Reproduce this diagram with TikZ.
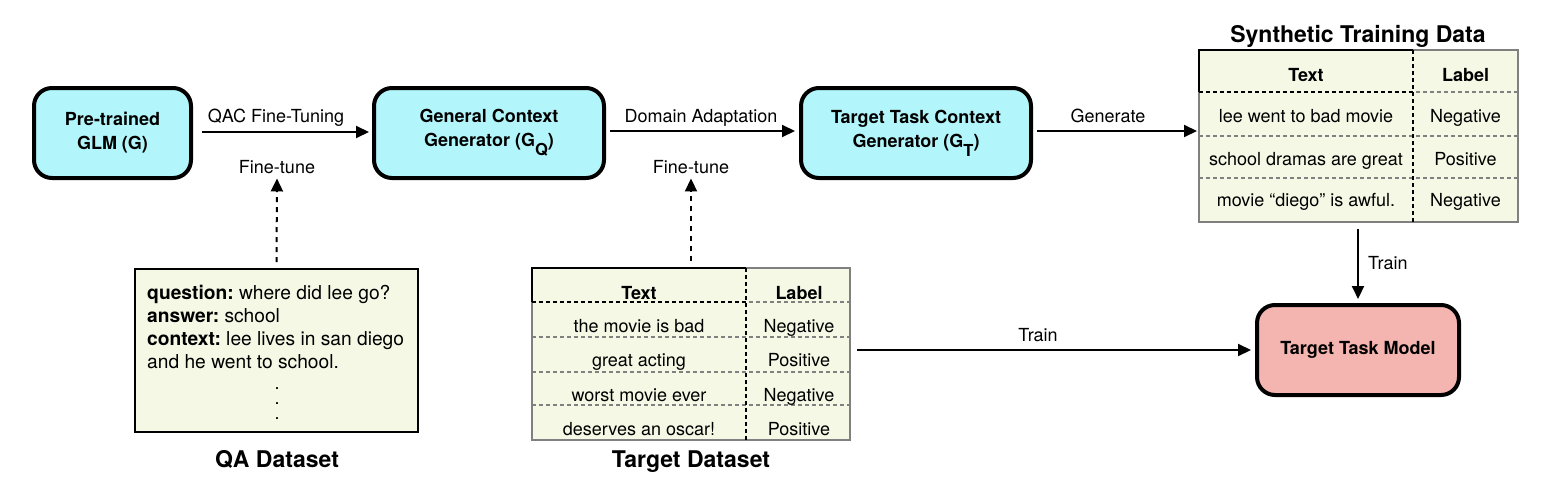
\documentclass[tikz,border=0pt]{standalone}
\usepackage{fontspec}
\setmainfont{TeX Gyre Heros}
\usetikzlibrary{arrows.meta}
\definecolor{cyanbox}{HTML}{B2F5FA}
\definecolor{pinkbox}{HTML}{F4B4AF}
\definecolor{paper}{HTML}{F5F8E5}
\definecolor{tgray}{HTML}{808080}
\newcommand\fsz{\fontsize{18}{24}\selectfont}
\frenchspacing
\begin{document}
\begin{tikzpicture}[x=1pt,y=-1pt,
  gbox/.style={draw=black, line width=4pt, rounded corners=18pt, fill=cyanbox, align=center, font=\bfseries\fsz, inner sep=0pt, minimum height=90pt},
  arr/.style={line width=2pt, -{Triangle[length=13pt,width=12pt]}},
  darr/.style={arr, dash pattern=on 5pt off 5pt},
  lbl/.style={font=\fsz, inner sep=0pt, anchor=base},
  qat/.style={font=\fontsize{19.2}{23}\selectfont, inner sep=0pt, anchor=base west},
  hdr/.style={font=\bfseries\fsz, inner sep=0pt, anchor=base},
  ttl/.style={font=\bfseries\fontsize{23}{27}\selectfont, inner sep=0pt, anchor=base},
  tbox/.style={draw=tgray, line width=2pt, fill=paper, inner sep=0pt},
  tline/.style={draw=tgray, line width=2pt, dash pattern=on 4pt off 3pt},
  kline/.style={draw=black, line width=2pt, dash pattern=on 4pt off 3pt}]
\useasboundingbox (0,0) rectangle (1558,490);

% generator boxes
\node[gbox, minimum width=157pt] (glm) at (112.5,133) {Pre-trained\\GLM (G)};
\node[gbox, minimum width=230pt] (gq) at (489,133) {General Context\\Generator (G\raisebox{-9pt}{\fontsize{16.5}{16.5}\selectfont Q})};
\node[gbox, minimum width=230pt] (gt) at (916,133) {Target Task Context\\Generator (G\raisebox{-9pt}{\fontsize{16.5}{16.5}\selectfont T})};
\node[gbox, fill=pinkbox, minimum width=202pt] (model) at (1358,350) {Target Task Model};

% synthetic training data table
\node[tbox, minimum width=319pt, minimum height=172pt] (syn) at (1358.5,136) {};
\draw[tline] (1199,92) -- (1518,92);
\draw[kline] (1199,92) -- (1413,92);
\draw[tline] (1199,136) -- (1518,136);
\draw[tline] (1199,178) -- (1518,178);
\draw[kline] (1413,50) -- (1413,222);
\draw[line width=2pt] (1199,92) -- (1199,50) -- (1413,50);
\node[ttl] (synt) at (1358,42) {Synthetic Training Data};
\node[hdr] (s0a) at (1306,81) {Text};
\node[hdr] (s0b) at (1465.5,81) {Label};
\node[lbl] (s1a) at (1306,122) {lee went to bad movie};
\node[lbl] (s1b) at (1465.5,122) {Negative};
\node[lbl] (s2a) at (1306,165) {school dramas are great};
\node[lbl] (s2b) at (1465.5,165) {Positive};
\node[lbl] (s3a) at (1306,206) {movie “diego” is awful.};
\node[lbl] (s3b) at (1465.5,206) {Negative};

% target dataset table
\node[tbox, minimum width=318pt, minimum height=172pt] (tgt) at (691,354) {};
\draw[tline] (532,302) -- (851,302);
\draw[kline] (532,302) -- (746,302);
\draw[tline] (532,337) -- (851,337);
\draw[tline] (532,372) -- (851,372);
\draw[tline] (532,405) -- (851,405);
\draw[kline] (746,268) -- (746,440);
\draw[line width=2pt] (532,302) -- (532,268) -- (746,268);
\node[ttl] (tgtt) at (691,467) {Target Dataset};
\node[hdr] (t0a) at (639,299) {Text};
\node[hdr] (t0b) at (799,299) {Label};
\node[lbl] (t1a) at (639,332) {the movie is bad};
\node[lbl] (t1b) at (799,332) {Negative};
\node[lbl] (t2a) at (639,366) {great acting};
\node[lbl] (t2b) at (799,366) {Positive};
\node[lbl] (t3a) at (639,401) {worst movie ever};
\node[lbl] (t3b) at (799,401) {Negative};
\node[lbl] (t4a) at (639,435) {deserves an oscar!};
\node[lbl] (t4b) at (799,435) {Positive};

% QA dataset
\node[draw=black, line width=2pt, fill=paper, minimum width=283pt, minimum height=163pt, inner sep=0pt] (qa) at (276.5,350.5) {};
\node[qat] (q1) at (147,299) {\textbf{question:} where did lee go?};
\node[qat] (q2) at (147,322) {\textbf{answer:} school};
\node[qat] (q3) at (147,345) {\textbf{context:} lee lives in san diego};
\node[qat] (q4) at (147,368) {and he went to school.};
\node[lbl] (d1) at (277,389) {.};
\node[lbl] (d2) at (277,404) {.};
\node[lbl] (d3) at (277,419) {.};
\node[ttl] (qat) at (277,467) {QA Dataset};

% edge labels
\node[lbl] (l1) at (276,122) {QAC Fine-Tuning};
\node[lbl] (l2) at (701,122) {Domain Adaptation};
\node[lbl] (l3) at (1108,122) {Generate};
\node[lbl] (ft1) at (277,173) {Fine-tune};
\node[lbl] (ft2) at (691,173) {Fine-tune};
\node[lbl] (tr1) at (1038,341) {Train};
\node[lbl, anchor=base west] (tr2) at (1368,269) {Train};

% connectors
\draw[arr, shorten <=9pt, shorten >=3pt] ([yshift=1pt]glm.east) -- ([yshift=1pt]gq.west);
\draw[arr, shorten <=4pt, shorten >=4pt] ([yshift=2pt]gq.east) -- ([yshift=2pt]gt.west);
\draw[arr, shorten <=4pt, shorten >=1pt] ([yshift=2pt]gt.east) -- ([yshift=2pt]gt.east -| syn.west);
\draw[darr, shorten <=6pt, shorten >=5pt] (qa.north) -- (ft1.south);
\draw[darr, shorten <=6pt, shorten >=5pt] (tgt.north) -- (ft2.south);
\draw[arr, shorten <=6pt, shorten >=4pt] (tgt.east |- model.west) -- (model.west);
\draw[arr, shorten <=6pt, shorten >=4pt] (syn.south -| model.north) -- (model.north);
\end{tikzpicture}
\end{document}
